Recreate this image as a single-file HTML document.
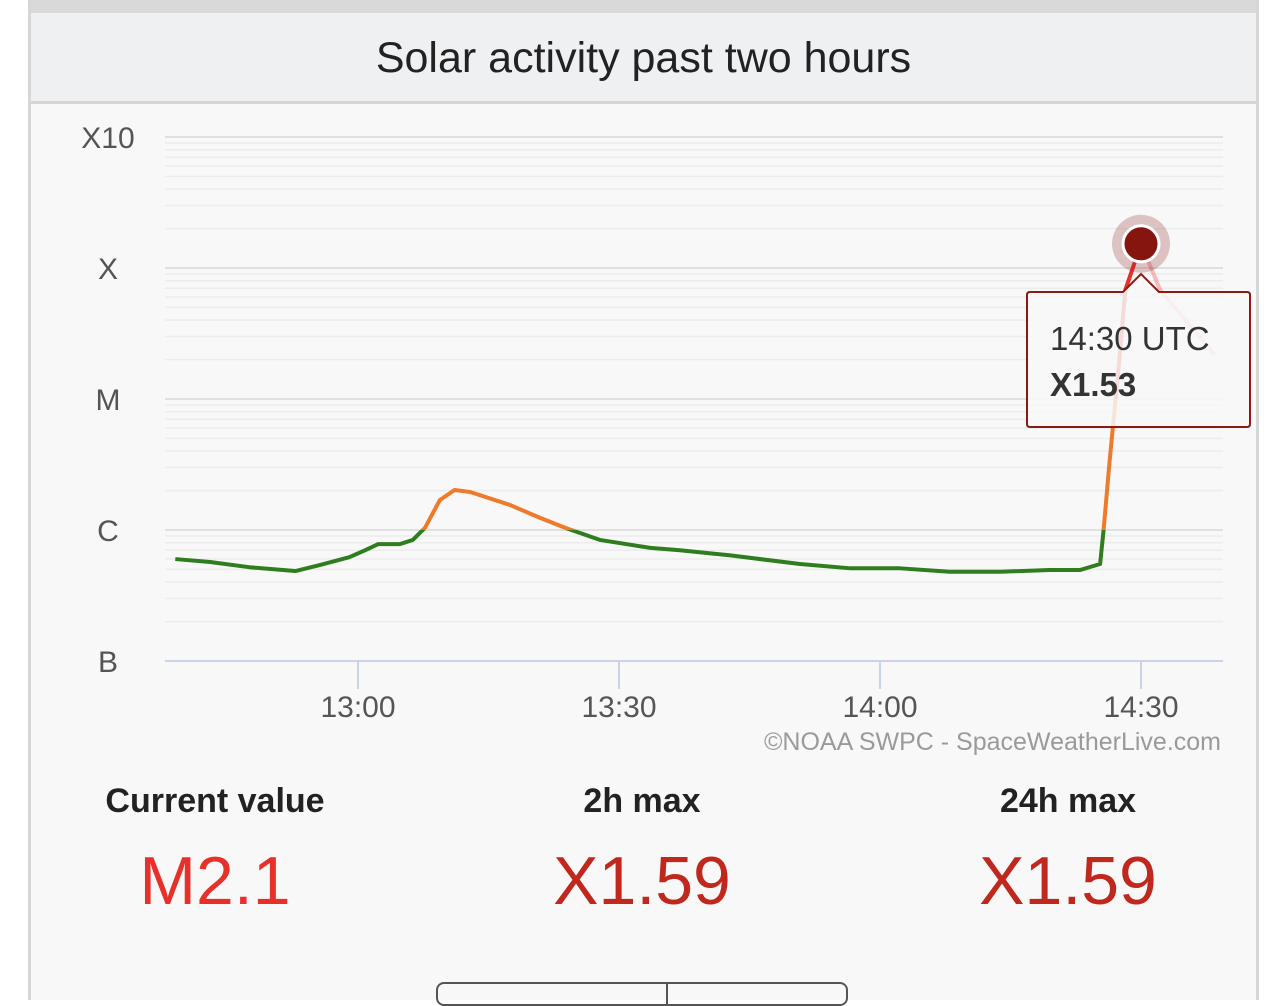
<!DOCTYPE html>
<html><head><meta charset="utf-8"><style>
body{margin:0;width:1284px;height:988px;overflow:hidden;background:#fff;font-family:"Liberation Sans",sans-serif;}
#card{position:absolute;left:28px;top:0;width:1225px;height:1000px;background:#f8f8f8;border-left:3px solid #d6d6d6;border-right:3px solid #d6d6d6;}
#topstrip{position:absolute;left:0;top:0;width:100%;height:13px;background:#d9d9d9;}
#header{position:absolute;left:0;top:13px;width:100%;height:88px;background:#eff0f2;border-bottom:3px solid #d6d6d6;text-align:center;font-size:43px;line-height:90px;color:#222;}
.lbl{position:absolute;font-size:34px;font-weight:bold;color:#222;text-align:center;width:300px;}
.val{position:absolute;font-size:68px;text-align:center;width:300px;}
</style></head><body>
<div id="card">
<div id="topstrip"></div>
<div id="header">Solar activity past two hours</div>
</div>
<svg id="chart" width="1284" height="988" style="position:absolute;left:0;top:0"></svg>
<div class="lbl" style="left:65px;top:782px">Current value</div>
<div class="lbl" style="left:492px;top:782px">2h max</div>
<div class="lbl" style="left:918px;top:782px">24h max</div>
<div class="val" style="left:65px;top:842px;color:#e8302a">M2.1</div>
<div class="val" style="left:492px;top:842px;color:#c0281e">X1.59</div>
<div class="val" style="left:918px;top:842px;color:#c0281e">X1.59</div>
<div style="position:absolute;left:436px;top:982px;width:408px;height:20px;border:2px solid #555;border-radius:8px;"><div style="position:absolute;left:228px;top:0;width:2px;height:20px;background:#555"></div></div>
<script>
const minutes=[39,43,47.5,52.8,55.6,59,60.8,62.3,64.8,66.3,67.7,69.4,71.1,72.9,77.5,80.9,83.8,87.8,93.6,97,102.8,110.8,116.6,122.3,128,133.8,139.5,143,145.3,145.7,146.4,147.4,148.2,150,152.2,158.5];
const flux=[6.0e-7,5.7e-7,5.2e-7,4.86e-7,5.4e-7,6.2e-7,7.0e-7,7.8e-7,7.8e-7,8.4e-7,1.04e-6,1.69e-6,2.02e-6,1.95e-6,1.55e-6,1.24e-6,1.04e-6,8.4e-7,7.3e-7,7.0e-7,6.4e-7,5.5e-7,5.1e-7,5.1e-7,4.8e-7,4.8e-7,4.95e-7,4.95e-7,5.5e-7,1.0e-6,3.4e-6,1.66e-5,6.8e-5,1.53e-4,6.8e-5,2.17e-5];
const peakIndex=33;
const yTickLabels=["B","C","M","X","X10"];
const yTickValues=[1e-7,1e-6,1e-5,1e-4,1e-3];
const xTickLabels=["13:00","13:30","14:00","14:30"];
const xTickMinutes=[60,90,120,150];
const NS="http://www.w3.org/2000/svg";
const svg=document.getElementById('chart');
const X0=165,X1=1223,Y0=661;
function xs(m){return 358+(m-60)*8.7;}
function ys(v){return Y0-131*(Math.log10(v)+7);}
function el(t,a,p){const e=document.createElementNS(NS,t);for(const k in a)e.setAttribute(k,a[k]);(p||svg).appendChild(e);return e;}
for(let d=-7;d<-3;d++){for(let k=1;k<10;k++){const v=k*Math.pow(10,d);if(v<=1e-7)continue;const y=ys(v);
const g=el('line',{x1:X0,x2:X1,y1:y,y2:y,stroke:k==1?'#e0e0e0':'#ececec','stroke-width':k==1?2:1.5});

}}
const topLine=el('line',{x1:X0,x2:X1,y1:ys(1e-3),y2:ys(1e-3),stroke:'#e0e0e0','stroke-width':2});


yTickLabels.forEach((l,i)=>{const t=el('text',{x:108,y:ys(yTickValues[i])+11,'text-anchor':'middle','font-size':30,fill:'#555'});t.textContent=l;

});
const ax=el('line',{x1:X0,x2:X1,y1:Y0,y2:Y0,stroke:'#c8d4e8','stroke-width':2});


xTickLabels.forEach((l,i)=>{const x=xs(xTickMinutes[i]);const tk=el('line',{x1:x,x2:x,y1:Y0,y2:Y0+28,stroke:'#c8d4e8','stroke-width':2});


const t=el('text',{x:x,y:717,'text-anchor':'middle','font-size':30,fill:'#555'});t.textContent=l;

});
const cr=el('text',{x:1221,y:750,'text-anchor':'end','font-size':25,fill:'#9a9a9a'});cr.textContent="©NOAA SWPC - SpaceWeatherLive.com";


const defs=el('defs',{});
const bands=[['cg',ys(1e-6),Y0+20,'#2e7d1e'],['co',ys(1e-5),ys(1e-6),'#ef7a2a'],['cr',0,ys(1e-5),'#e8302a']];
bands.forEach(b=>{const c=el('clipPath',{id:b[0]},defs);el('rect',{x:0,y:b[1],width:1284,height:b[2]-b[1]},c);});
const pts=minutes.slice(0,peakIndex+1).map((m,i)=>xs(m)+','+ys(flux[i])).join(' ');
const fut=minutes.slice(peakIndex).map((m,i)=>xs(m)+','+ys(flux[i+peakIndex])).join(' ');
bands.forEach(b=>{const p=el('polyline',{points:pts,fill:'none',stroke:b[3],'stroke-width':4,'stroke-linejoin':'round','clip-path':'url(#'+b[0]+')'});

});
const f=el('polyline',{points:fut,fill:'none',stroke:'#e8302a','stroke-opacity':0.3,'stroke-width':4});


const px=xs(minutes[peakIndex]),py=ys(flux[peakIndex]);
const tt=el('path',{d:`M1030,292 L${px-18},292 L${px},274 L${px+18},292 L1247,292 Q1250,292 1250,295 L1250,424 Q1250,427 1247,427 L1030,427 Q1027,427 1027,424 L1027,295 Q1027,292 1030,292 Z`,fill:'rgba(248,248,248,0.85)',stroke:'#8b1a12','stroke-width':2});


const t1=el('text',{x:1050,y:350,'font-size':33,fill:'#333'});t1.textContent="14:30 UTC";


const t2=el('text',{x:1050,y:396,'font-size':33,'font-weight':'bold',fill:'#333'});t2.textContent="X1.53";


const h=el('circle',{cx:px,cy:py,r:29,fill:'rgba(140,30,30,0.25)'});


const mk=el('circle',{cx:px,cy:py,r:18,fill:'#86150f',stroke:'#fff','stroke-width':3});


</script>
</body></html>
